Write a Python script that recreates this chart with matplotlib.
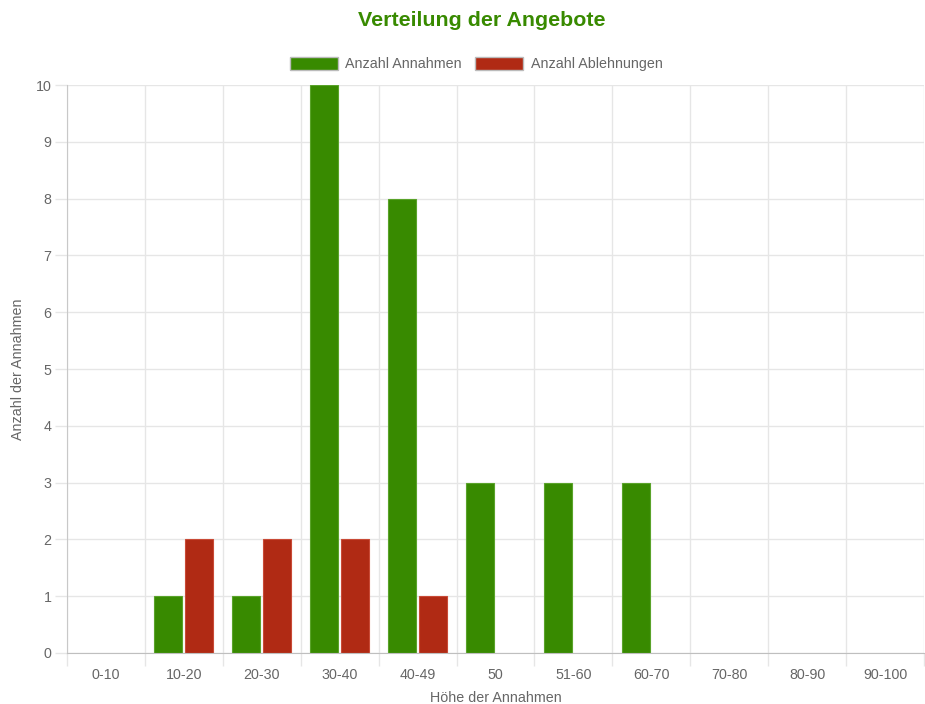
import matplotlib
matplotlib.use("Agg")
import matplotlib.pyplot as plt
import numpy as np
from matplotlib.patches import Rectangle

plt.rcParams['font.family'] = ['Liberation Sans', 'DejaVu Sans']

categories = ["0-10", "10-20", "20-30", "30-40", "40-49", "50", "51-60", "60-70", "70-80", "80-90", "90-100"]
annahmen = [0, 1, 1, 10, 8, 3, 3, 3, 0, 0, 0]
ablehnungen = [0, 2, 2, 2, 1, 0, 0, 0, 0, 0, 0]

green = "#388a00"
red = "#b02a14"
txt = "#666666"
grid = "#e6e6e6"
fs = 10.3

fig = plt.figure(figsize=(9.25, 7.04), dpi=100)
ax = fig.add_axes([67/925, 1-653/704, (924-67)/925, (653-85)/704])

n = len(categories)
x = np.arange(n)
w = 0.8 / 2 * 0.9
off = 0.2
for xi, v in zip(x, annahmen):
    if v > 0:
        ax.bar(xi - off, v, width=w, color=green, edgecolor="#5aa32a", linewidth=0.8, zorder=3)
for xi, v in zip(x, ablehnungen):
    if v > 0:
        ax.bar(xi + off, v, width=w, color=red, edgecolor="#c94a36", linewidth=0.8, zorder=3)

ax.set_xlim(-0.5, n - 0.5)
ax.set_ylim(0, 10)
ax.set_yticks(range(0, 11))
ax.set_xticks(x)
ax.set_xticklabels(categories)
ax.set_xticks(np.arange(-0.5, n, 1.0), minor=True)
ax.tick_params(axis='x', which='major', length=0, pad=11, labelsize=fs, labelcolor=txt)
ax.tick_params(axis='x', which='minor', length=9, color=grid, width=1)
ax.tick_params(axis='y', which='major', length=9, color=grid, width=1, pad=2, labelsize=fs, labelcolor=txt)
ax.grid(True, axis='y', color=grid, linewidth=1, zorder=0)
ax.grid(True, axis='x', which='minor', color=grid, linewidth=1, zorder=0)
ax.grid(False, axis='x', which='major')
for s in ['top', 'right']:
    ax.spines[s].set_visible(False)
ax.spines['left'].set_color("#c8c8c8")
ax.spines['bottom'].set_color("#bfbfbf")
ax.spines['left'].set_zorder(4)
ax.spines['bottom'].set_zorder(4)

ax.set_xlabel("Höhe der Annahmen", color=txt, fontsize=fs, labelpad=6)
ax.set_ylabel("Anzahl der Annahmen", color=txt, fontsize=fs, labelpad=8)

fig.text(482/925, 1-20/704, "Verteilung der Angebote", ha='center', va='center',
         fontsize=15.4, fontweight='bold', color=green)

# legend
handles = [Rectangle((0, 0), 1, 1, facecolor=green, edgecolor="#bbbbbb"),
           Rectangle((0, 0), 1, 1, facecolor=red, edgecolor="#bbbbbb")]
leg = fig.legend(handles, ["Anzahl Annahmen", "Anzahl Ablehnungen"], loc='center',
                 bbox_to_anchor=(476/925, 1-64/704), ncol=2, frameon=False,
                 fontsize=fs, handlelength=3.4, handleheight=1.05, handletextpad=0.5,
                 columnspacing=0.9, labelcolor=txt)

fig.savefig("out.png", dpi=100)
